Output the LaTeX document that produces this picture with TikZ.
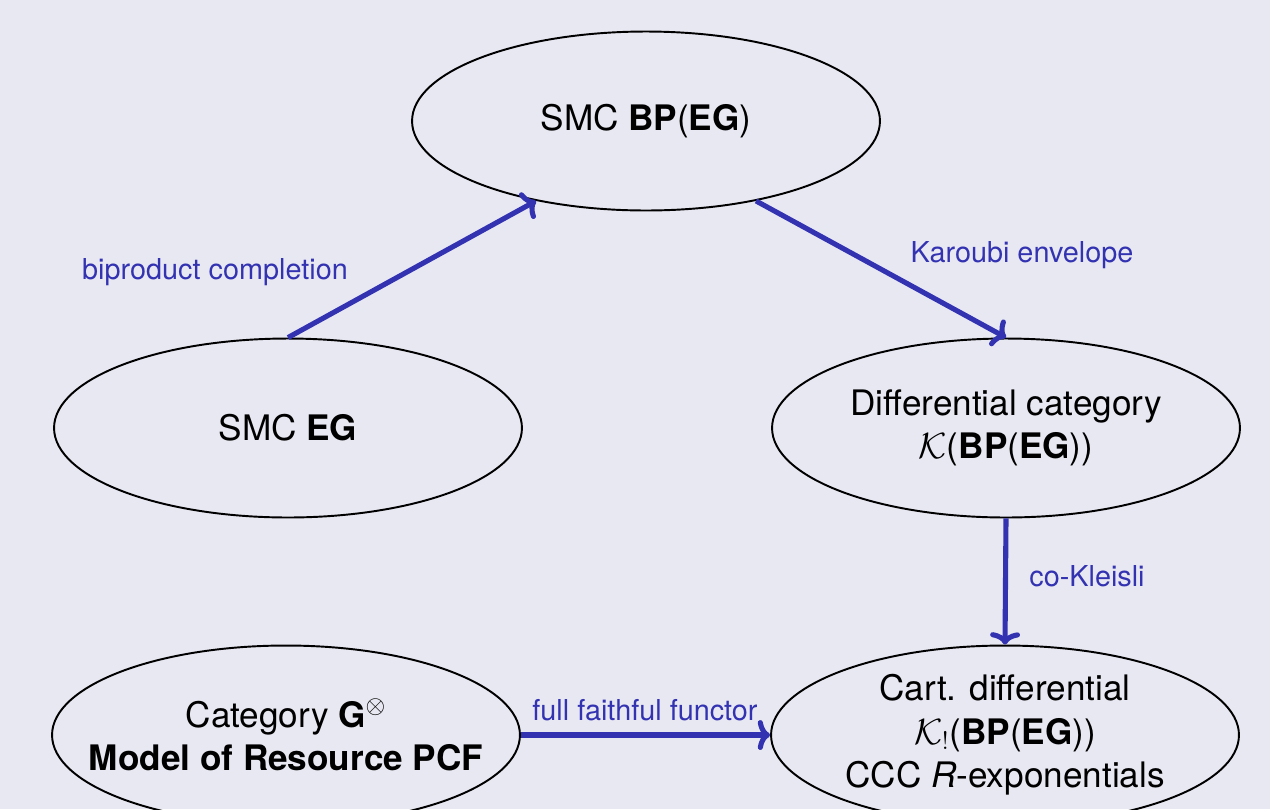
\documentclass[tikz,border=0pt]{standalone}
\usepackage{fontspec}
\setmainfont{TeX Gyre Heros}
\usetikzlibrary{shapes.geometric,arrows.meta}
\definecolor{bgcol}{RGB}{232,232,242}
\definecolor{arrcol}{RGB}{51,51,178}
\tikzset{
  cat/.style={ellipse, draw=black, line width=1.1pt, inner sep=0pt,
    minimum width=9.36cm, minimum height=3.58cm, align=center,
    font=\fontsize{20}{24.7}\selectfont},
  cattext/.style={align=center, inner sep=0pt,
    font=\fontsize{20}{24.7}\selectfont},
  conn/.style={draw=arrcol, line width=2.9pt,
    -{To[length=7pt,width=17pt,line width=2.9pt]}},
  lbl/.style={text=arrcol, font=\fontsize{16.4}{19}\selectfont, inner sep=0pt}
}
\begin{document}
\begin{tikzpicture}[x=0.02cm,y=-0.02cm]
\fill[bgcol] (0,0) rectangle (1270,809);
\useasboundingbox (0,0) rectangle (1270,809);
\begin{scope}
\clip (0,0) rectangle (1270,809);
\node[cat] (bp) at (646,121) {SMC \textbf{BP}(\textbf{EG})};
\node[cat] (eg) at (288,428) {SMC \textbf{EG}};
\node[cat] (diff) at (1006,428) {Differential category\\$\mathcal{K}$(\textbf{BP}(\textbf{EG}))};
\node[cat] (g) at (286,735) {};
\node[cattext] (gt) at (g.center) {Category \textbf{G}$^{\otimes}$\\\textbf{Model of Resource PCF}};
\node[cat] (cart) at (1005,735) {Cart. differential\\$\mathcal{K}_!$(\textbf{BP}(\textbf{EG}))\\CCC \textit{R}-exponentials};
\draw[conn] (eg.north) -- (bp.216);
\draw[conn] (bp.-36) -- (diff.north);
\draw[conn] (diff.south) -- (cart.north);
\draw[conn] (g.east) -- (cart.west);
\node[lbl] (l1) at (215,272) {biproduct completion};
\node[lbl] (l2) at (1022,255) {Karoubi envelope};
\node[lbl] (l3) at (1087,576) {co-Kleisli};
\node[lbl] (l4) at (645,710) {full faithful functor};
\end{scope}
\end{tikzpicture}
\end{document}
